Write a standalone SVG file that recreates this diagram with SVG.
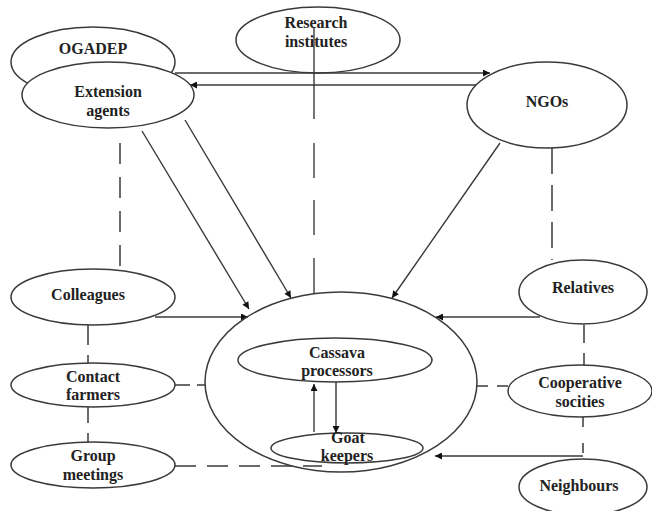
<svg xmlns="http://www.w3.org/2000/svg" width="652" height="511" viewBox="0 0 652 511">
<style>
.n{fill:#fff;stroke:#3a3a3a;stroke-width:1.5}
.t{font-family:"Liberation Serif","Times New Roman",serif;font-weight:bold;font-size:16px;fill:#222;text-anchor:middle}
.a{stroke:#3a3a3a;stroke-width:1.4;fill:none}
.r{stroke:#555;stroke-width:1.6}
.d{stroke:#6a6a6a;stroke-width:2;fill:none;stroke-dasharray:23,12}
</style>
<defs>
<marker id="ah" viewBox="0 0 10 10" refX="10" refY="5" markerWidth="9" markerHeight="7" markerUnits="userSpaceOnUse" orient="auto">
<path d="M0,0 L10,5 L0,10 z" fill="#111"/>
</marker>
</defs>
<rect width="652" height="511" fill="#fff"/>
<g id="research"><ellipse class="n" cx="318" cy="40" rx="82" ry="33"/><text class="t" x="316" y="28">Research</text><text class="t" x="316" y="47">institutes</text></g>
<g id="connectors">
<line class="a" x1="314" y1="28" x2="314" y2="119"/>
<line class="r" x1="314" y1="143" x2="314" y2="178"/>
<line class="r" x1="314" y1="200" x2="314" y2="235"/>
<line class="r" x1="314" y1="258" x2="314" y2="294"/>
<line class="a" x1="175" y1="73" x2="490" y2="73" marker-end="url(#ah)"/>
<line class="a" x1="476" y1="85" x2="190" y2="85" marker-end="url(#ah)"/>
<line class="a" x1="142" y1="131" x2="249" y2="309" marker-end="url(#ah)"/>
<line class="a" x1="185" y1="120" x2="291" y2="298" marker-end="url(#ah)"/>
<line class="a" x1="500" y1="143" x2="392" y2="298" marker-end="url(#ah)"/>
<line class="a" x1="155" y1="317" x2="248" y2="317" marker-end="url(#ah)"/>
<line class="a" x1="540" y1="317" x2="436" y2="317" marker-end="url(#ah)"/>
<line class="a" x1="583" y1="456" x2="435" y2="456" marker-end="url(#ah)"/>
<line class="a" x1="314" y1="432" x2="314" y2="384" marker-end="url(#ah)"/>
<line class="a" x1="336" y1="382" x2="336" y2="433" marker-end="url(#ah)"/>
<path class="d" d="M120,143 V270" style="stroke-dasharray:21,13"/>
<path class="d" d="M88,325 V363" style="stroke-dasharray:20,10"/>
<path class="d" d="M88,407 V443" style="stroke-dasharray:16,10"/>
<path class="d" d="M175,385 H205" style="stroke-dasharray:15,7"/>
<path class="d" d="M175,466 H322" style="stroke-dasharray:21,11"/>
<path class="d" d="M552,148 V260" style="stroke-dasharray:26,11"/>
<path class="d" d="M584,325 V365" style="stroke-dasharray:18,10"/>
<path class="d" d="M477,386 H508" style="stroke-dasharray:11,9"/>
<path class="d" d="M583,417 V460" style="stroke-dasharray:10,16"/>
</g>
<g id="ogadep"><ellipse class="n" cx="93" cy="62" rx="82" ry="35"/><text class="t" x="93" y="54">OGADEP</text></g>
<g id="extension"><ellipse class="n" cx="108" cy="95" rx="86" ry="33"/><text class="t" x="108" y="97">Extension</text><text class="t" x="108" y="116">agents</text></g>
<g id="ngos"><ellipse class="n" cx="547" cy="105" rx="80" ry="43"/><text class="t" x="547" y="107">NGOs</text></g>
<g id="colleagues"><ellipse class="n" cx="93" cy="297" rx="82" ry="28"/><text class="t" x="88" y="300">Colleagues</text></g>
<g id="contact"><ellipse class="n" cx="93" cy="385" rx="82" ry="22"/><text class="t" x="93" y="382">Contact</text><text class="t" x="93" y="400">farmers</text></g>
<g id="group"><ellipse class="n" cx="93" cy="465" rx="82" ry="23"/><text class="t" x="93" y="461">Group</text><text class="t" x="93" y="480">meetings</text></g>
<g id="relatives"><ellipse class="n" cx="583" cy="292" rx="64" ry="32"/><text class="t" x="583" y="293">Relatives</text></g>
<g id="cooperative"><ellipse class="n" cx="580" cy="391" rx="72" ry="26"/><text class="t" x="580" y="388">Cooperative</text><text class="t" x="580" y="407">socities</text></g>
<g id="neighbours"><ellipse class="n" cx="583" cy="487" rx="64" ry="28"/><text class="t" x="579" y="491">Neighbours</text></g>
<g id="farmers"><ellipse cx="341" cy="382" rx="136" ry="90" fill="none" stroke="#3a3a3a" stroke-width="1.5"/></g>
<g id="cassava"><ellipse class="n" cx="335" cy="360" rx="97" ry="22"/><text class="t" x="337" y="358">Cassava</text><text class="t" x="337" y="376">processors</text></g>
<g id="goat"><ellipse class="n" cx="347" cy="448" rx="76" ry="15"/><text class="t" x="348" y="443">Goat</text><text class="t" x="347" y="461">keepers</text></g>
</svg>
